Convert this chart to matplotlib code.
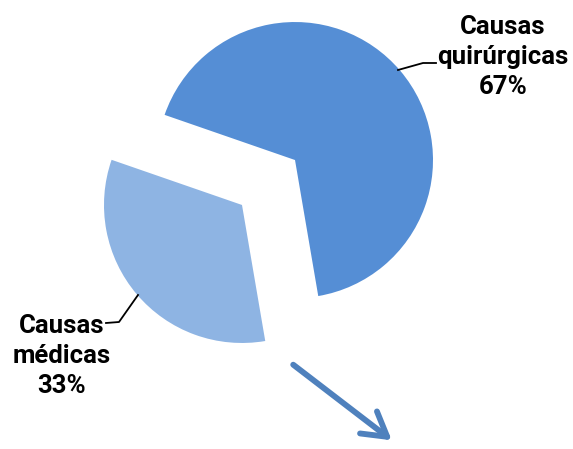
import numpy as np
import matplotlib
matplotlib.use("Agg")
import matplotlib.pyplot as plt

# data
categories = ["Causas quirúrgicas", "Causas médicas"]
shares = [67, 33]
colors = ["#558ED5", "#8EB4E3"]

plt.rcParams["font.family"] = ["Roboto", "DejaVu Sans"]

W, H = 573, 449
fig = plt.figure(figsize=(W / 100, H / 100), dpi=100)
ax = fig.add_axes([0, 0, 1, 1])

R = 138
ax.pie(shares, colors=colors, startangle=160.9, counterclock=False,
       radius=R, center=(268.5, H - 182.5), explode=(34.75, 34.75),
       wedgeprops=dict(linewidth=0), frame=True)
ax.set_xlim(0, W)
ax.set_ylim(0, H)
ax.set_aspect("equal")
ax.axis("off")

txt = dict(fontsize=18.5, fontweight="bold", ha="center", va="center",
           linespacing=1.33)

# label for the big slice
lbl0 = categories[0].replace(" ", "\n") + "\n%d%%" % shares[0]
ax.text(503, H - 57, lbl0, **txt)
ax.plot([398, 423, 436], [H - 70, H - 63, H - 63], color="black", lw=1.3)

# label for the small slice
lbl1 = categories[1].replace(" ", "\n") + "\n%d%%" % shares[1]
ax.text(62, H - 356, lbl1, **txt)
ax.plot([138, 119, 106], [H - 295, H - 322, H - 323], color="black", lw=1.3)

# arrow at the bottom
ax.annotate("", xy=(394, H - 442), xytext=(291, H - 363),
            arrowprops=dict(arrowstyle="->,head_length=0.85,head_width=0.5",
                            mutation_scale=20, color="#4F81BD", lw=4.2,
                            capstyle="round"))

fig.savefig("out.png", dpi=100)
